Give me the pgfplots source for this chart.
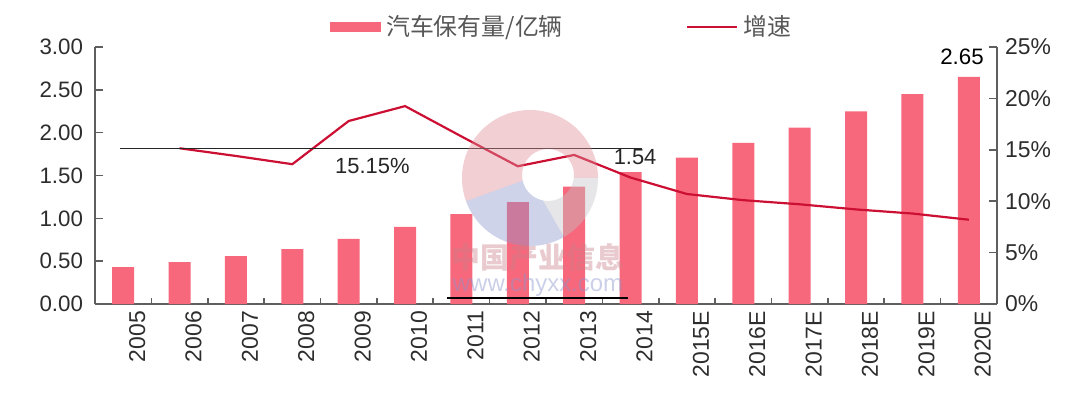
\documentclass[border=0pt]{standalone}
\usepackage{pgfplots}
\pgfplotsset{compat=1.18}
\usepackage{fontspec}
\setmainfont{Liberation Sans}
\newfontfamily\cjk{Noto Sans CJK SC}
\definecolor{barcol}{RGB}{247,104,124}
\definecolor{linecol}{RGB}{204,16,52}
\definecolor{axcol}{RGB}{95,95,95}
\definecolor{txtcol}{RGB}{45,45,45}
\definecolor{wmred}{RGB}{222,140,150}
\definecolor{wmblue}{RGB}{140,150,205}
\definecolor{wmgray}{RGB}{195,195,200}
\newcommand\tf{\fontsize{11.2}{12}\selectfont}

\begin{document}
\begin{tikzpicture}
\pgfplotsset{
  base/.style={
    scale only axis, width=451bp, height=128.5bp,
    at={(0,0)}, anchor=south west,
    xmin=-0.5, xmax=15.5,
    tick align=inside,
    major tick length=4bp, minor tick length=3bp,
    axis line style={axcol, line width=0.8bp},
    tick style={axcol, line width=0.8bp},
    /pgf/number format/assume math mode=true,
    tick label style={font=\tf, text=txtcol},
  }
}
\begin{axis}[base,
  axis x line*=bottom, axis y line*=left,
  ymin=0, ymax=3,
  ytick={0,0.5,1,1.5,2,2.5,3},
  yticklabel style={/pgf/number format/fixed, /pgf/number format/fixed zerofill, /pgf/number format/precision=2, xshift=-2.5bp},
  xtick={0,...,15},
  xticklabels={2005,2006,2007,2008,2009,2010,2011,2012,2013,2014,2015E,2016E,2017E,2018E,2019E,2020E},
  xticklabel style={rotate=90, anchor=east, yshift=-7bp, font=\fontsize{11.5}{12}\selectfont},
  major x tick style={draw=none},
  minor xtick={0.5,1.5,...,14.5},
]
\addplot[ybar, bar width=11bp, fill=barcol, draw=none] coordinates {
(0,0.43) (1,0.49) (2,0.56) (3,0.64) (4,0.76) (5,0.90) (6,1.05) (7,1.19)
(8,1.37) (9,1.54) (10,1.71) (11,1.88) (12,2.06) (13,2.25) (14,2.45) (15,2.65)};
\addplot[black, line width=0.7bp] coordinates {(5.74,0.07) (8.95,0.07)};
\node[font=\fontsize{11.2}{12}\selectfont, text=black] at (axis cs:14.88,2.88) {2.65};
\end{axis}

\begin{axis}[base,
  axis y line*=right, axis x line=none,
  ymin=0, ymax=25,
  ytick={0,5,10,15,20,25},
  yticklabel={\pgfmathprintnumber{\tick}\%},
  yticklabel style={anchor=west, xshift=0.5bp, font=\fontsize{11.5}{12}\selectfont},
  legend columns=2,
  legend style={at={(axis description cs:0.2605,1.078)}, anchor=west, draw=none, fill=none,
    inner sep=0pt, nodes={inner sep=0pt, text=txtcol!80, font=\cjk\fontsize{12}{13}\selectfont},
    /tikz/every odd column/.append style={column sep=2.5bp},
    /tikz/every even column/.append style={column sep=61.5bp}},
]
\addlegendimage{legend image code/.code={\fill[barcol] (0bp,-2.3bp) rectangle (25bp,2.3bp);}}
\addlegendentry{汽车保有量/亿辆}
\addplot[linecol, line width=1.1bp, mark=none,
  legend image code/.code={\draw[linecol, line width=1.2bp] (0bp,0bp) -- (25bp,0bp);}] coordinates {
(1,15.15) (2,14.4) (3,13.6) (4,17.8) (5,19.25) (6,16.3) (7,13.4) (8,14.5)
(9,12.3) (10,10.7) (11,10.1) (12,9.7) (13,9.2) (14,8.8) (15,8.2)};
\addlegendentry{增速}
\addplot[black!85, line width=0.6bp, forget plot] coordinates {(-0.05,15.15) (9.2,15.15)};
\node[font=\fontsize{11}{12}\selectfont, text=black!85] at (axis cs:4.42,13.45) {15.15\%};
\node[font=\fontsize{11}{12}\selectfont, text=black!85] at (axis cs:9.08,14.3) {1.54};
\end{axis}

% watermark
\begin{scope}[opacity=0.42]
  \begin{scope}
    \clip (217.5bp,63bp) -- ++(0:40bp) arc[start angle=0, end angle=200, radius=40bp] -- cycle;
    \fill[wmred, even odd rule] (217.5bp,63bp) circle (34bp) (226.5bp,64.5bp) circle (13bp);
  \end{scope}
  \begin{scope}
    \clip (217.5bp,63bp) -- ++(200:40bp) arc[start angle=200, end angle=300, radius=40bp] -- cycle;
    \fill[wmblue, even odd rule] (217.5bp,63bp) circle (34bp) (226.5bp,64.5bp) circle (13bp);
  \end{scope}
  \begin{scope}
    \clip (217.5bp,63bp) -- ++(300:40bp) arc[start angle=300, end angle=360, radius=40bp] -- cycle;
    \fill[wmgray, even odd rule] (217.5bp,63bp) circle (34bp) (226.5bp,64.5bp) circle (13bp);
  \end{scope}
\end{scope}
\node[opacity=0.4, text=wmred!90!black, font=\cjk\bfseries\fontsize{14.5}{15}\selectfont] at (221.5bp,23bp) {中国产业信息};
\node[opacity=0.45, text=wmblue, font=\fontsize{12}{13}\selectfont] at (221.5bp,9.5bp) {www.chyxx.com};

\path[use as bounding box] (-47.5bp,-50bp) rectangle (492.5bp,152bp);
\end{tikzpicture}
\end{document}
